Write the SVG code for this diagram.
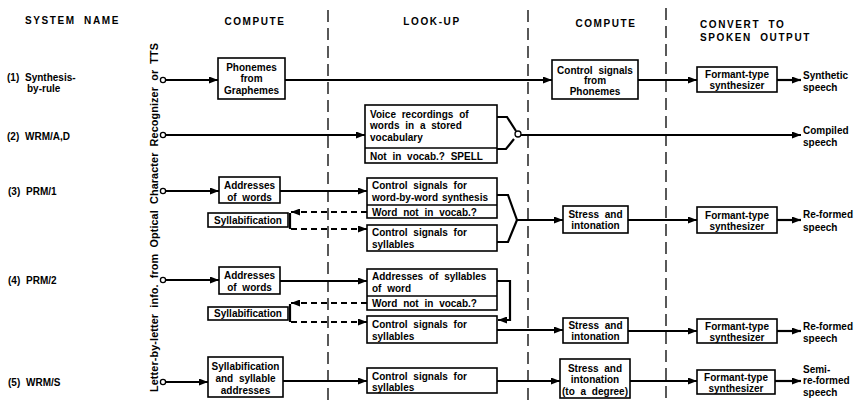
<svg xmlns="http://www.w3.org/2000/svg" width="862" height="400" viewBox="0 0 862 400">
<defs>
<marker id="ah" markerUnits="userSpaceOnUse" markerWidth="9" markerHeight="7" refX="9" refY="3.5" orient="auto">
<path d="M0,0 L9,3.5 L0,7 z" fill="#000"/>
</marker>
<style>
.t{font-family:"Liberation Sans",Arial,sans-serif;font-size:10px;font-weight:bold;fill:#000;dominant-baseline:central;word-spacing:3px}
.c{text-anchor:middle}
.h{letter-spacing:1.6px;word-spacing:4px}
.box{fill:#fff;stroke:#000;stroke-width:1.6}
.ln{stroke:#000;stroke-width:2.2;fill:none}
.ar{marker-end:url(#ah)}
.dash{stroke-dasharray:6 4}
.div{stroke:#000;stroke-width:1.3;stroke-dasharray:12 6;fill:none}
.in{fill:#fff;stroke:#000;stroke-width:1.3}
</style>
</defs>
<rect width="862" height="400" fill="#fff"/>

<g id="headers">
<text class="t h" x="25" y="20">SYSTEM NAME</text>
<text class="t h c" x="255" y="21">COMPUTE</text>
<text class="t h c" x="432" y="21">LOOK-UP</text>
<text class="t h c" x="606" y="23">COMPUTE</text>
<text class="t h" x="700" y="24">CONVERT TO</text>
<text class="t h" x="700" y="37">SPOKEN OUTPUT</text>
</g>

<g id="dividers">
<line class="div" x1="328" y1="10" x2="328" y2="400"/>
<line class="div" x1="528" y1="10" x2="528" y2="400"/>
<line class="div" x1="666" y1="8" x2="666" y2="400"/>
</g>

<g id="side-label">
<text class="t" x="158" y="392" transform="rotate(-90 158 392)" textLength="349" lengthAdjust="spacing" style="dominant-baseline:auto;font-size:10.8px;word-spacing:3px">Letter-by-letter info. from Optical Character Recognizer or TTS</text>
</g>

<g id="system-names">
<text class="t" x="7" y="77">(1) Synthesis-</text>
<text class="t" x="27" y="88">by-rule</text>
<text class="t" x="7" y="136">(2) WRM/A,D</text>
<text class="t" x="8" y="191">(3) PRM/1</text>
<text class="t" x="8" y="280">(4) PRM/2</text>
<text class="t" x="8" y="382">(5) WRM/S</text>
</g>

<g id="connectors">
<!-- row 1 -->
<path class="ln ar" d="M166,80 H218"/>
<path class="ln ar" d="M285,80 H552"/>
<path class="ln ar" d="M638,80 H697"/>
<path class="ln ar" d="M777,80 H801"/>
<!-- row 2 -->
<path class="ln ar" d="M166,135 H365"/>
<path class="ln" d="M497,117 H507 L516,131"/>
<path class="ln" d="M497,149 H506 L514,139"/>
<path class="ln ar" d="M521,135 H801"/>
<!-- row 3 -->
<path class="ln ar" d="M166,191 H219"/>
<path class="ln ar" d="M280,191 H367"/>
<path class="ln dash ar" d="M367,212 H291"/>
<path class="ln" d="M290,213 V229"/>
<path class="ln dash ar" d="M291,229 H367"/>
<path class="ln" d="M497,195 H508 L517,220"/>
<path class="ln" d="M497,242 H508 L517,220"/>
<path class="ln ar" d="M517,220 H563"/>
<path class="ln ar" d="M628,220 H697"/>
<path class="ln ar" d="M777,220 H801"/>
<!-- row 4 -->
<path class="ln ar" d="M166,280 H219"/>
<path class="ln ar" d="M280,281 H367"/>
<path class="ln ar" d="M497,281 H510 V320 H498"/>
<path class="ln dash ar" d="M367,303 H291"/>
<path class="ln" d="M290,304 V322"/>
<path class="ln dash ar" d="M291,322 H367"/>
<path class="ln ar" d="M497,330 H563"/>
<path class="ln ar" d="M628,331 H697"/>
<path class="ln ar" d="M777,331 H801"/>
<!-- row 5 -->
<path class="ln ar" d="M166,382 H208"/>
<path class="ln ar" d="M283,381 H367"/>
<path class="ln ar" d="M497,381 H560"/>
<path class="ln ar" d="M630,381 H697"/>
<path class="ln ar" d="M775,381 H801"/>
<!-- input terminals -->
<circle class="in" cx="163" cy="80" r="2.6"/>
<circle class="in" cx="163" cy="135" r="2.6"/>
<circle class="in" cx="163" cy="191" r="2.6"/>
<circle class="in" cx="163" cy="280" r="2.6"/>
<circle class="in" cx="163" cy="382" r="2.6"/>
<circle class="in" cx="518" cy="134" r="3"/>
</g>

<g id="r1-phonemes">
<rect class="box" x="218" y="58" width="67" height="41"/>
<text class="t c" x="251.5" y="67">Phonemes</text>
<text class="t c" x="251.5" y="78">from</text>
<text class="t c" x="251.5" y="90">Graphemes</text>
</g>
<g id="r1-control">
<rect class="box" x="552" y="60" width="86" height="39"/>
<text class="t c" x="595" y="70">Control signals</text>
<text class="t c" x="595" y="80">from</text>
<text class="t c" x="595" y="91">Phonemes</text>
</g>
<g id="r1-formant">
<rect class="box" x="697" y="67" width="80" height="25"/>
<text class="t c" x="737" y="74">Formant-type</text>
<text class="t c" x="737" y="85">synthesizer</text>
</g>
<g id="r1-output">
<text class="t" x="803" y="75">Synthetic</text>
<text class="t" x="803" y="87">speech</text>
</g>

<g id="r2-voice">
<rect class="box" x="365" y="105" width="132" height="58"/>
<line x1="365" y1="148" x2="497" y2="148" stroke="#000" stroke-width="1.6"/>
<text class="t" x="370" y="114">Voice recordings of</text>
<text class="t" x="370" y="125">words in a stored</text>
<text class="t" x="370" y="137">vocabulary</text>
<text class="t" x="370" y="156">Not in vocab.? SPELL</text>
</g>
<g id="r2-output">
<text class="t" x="803" y="130">Compiled</text>
<text class="t" x="803" y="142">speech</text>
</g>

<g id="r3-addresses">
<rect class="box" x="219" y="177" width="61" height="26"/>
<text class="t c" x="249.5" y="185">Addresses</text>
<text class="t c" x="249.5" y="197">of words</text>
</g>
<g id="r3-syllabification">
<rect class="box" x="208" y="213" width="80" height="14"/>
<text class="t c" x="248" y="220" style="word-spacing:0">Syllabification</text>
</g>
<g id="r3-wordsynth">
<rect class="box" x="367" y="178" width="130" height="40"/>
<line x1="367" y1="205" x2="497" y2="205" stroke="#000" stroke-width="1.6"/>
<text class="t" x="372" y="185">Control signals for</text>
<text class="t" x="372" y="197" style="word-spacing:1px">word-by-word synthesis</text>
<text class="t" x="372" y="212">Word not in vocab.?</text>
</g>
<g id="r3-syllables">
<rect class="box" x="367" y="225" width="130" height="26"/>
<text class="t" x="372" y="232">Control signals for</text>
<text class="t" x="372" y="244">syllables</text>
</g>
<g id="r3-stress">
<rect class="box" x="563" y="206" width="65" height="27"/>
<text class="t c" x="595.5" y="214">Stress and</text>
<text class="t c" x="595.5" y="225">intonation</text>
</g>
<g id="r3-formant">
<rect class="box" x="697" y="207" width="80" height="26"/>
<text class="t c" x="737" y="215">Formant-type</text>
<text class="t c" x="737" y="226">synthesizer</text>
</g>
<g id="r3-output">
<text class="t" x="803" y="214">Re-formed</text>
<text class="t" x="803" y="227">speech</text>
</g>

<g id="r4-addresses">
<rect class="box" x="219" y="267" width="61" height="27"/>
<text class="t c" x="249.5" y="275">Addresses</text>
<text class="t c" x="249.5" y="287">of words</text>
</g>
<g id="r4-syllabification">
<rect class="box" x="208" y="307" width="80" height="13"/>
<text class="t c" x="248" y="313.5" style="word-spacing:0">Syllabification</text>
</g>
<g id="r4-sylladdr">
<rect class="box" x="367" y="269" width="130" height="41"/>
<line x1="367" y1="296" x2="497" y2="296" stroke="#000" stroke-width="1.6"/>
<text class="t" x="372" y="276">Addresses of syllables</text>
<text class="t" x="372" y="288">of word</text>
<text class="t" x="372" y="303">Word not in vocab.?</text>
</g>
<g id="r4-syllables">
<rect class="box" x="367" y="316" width="130" height="27"/>
<text class="t" x="372" y="324">Control signals for</text>
<text class="t" x="372" y="336">syllables</text>
</g>
<g id="r4-stress">
<rect class="box" x="563" y="318" width="65" height="25"/>
<text class="t c" x="595.5" y="325">Stress and</text>
<text class="t c" x="595.5" y="336">intonation</text>
</g>
<g id="r4-formant">
<rect class="box" x="697" y="319" width="80" height="24"/>
<text class="t c" x="737" y="326">Formant-type</text>
<text class="t c" x="737" y="337">synthesizer</text>
</g>
<g id="r4-output">
<text class="t" x="803" y="326">Re-formed</text>
<text class="t" x="803" y="338">speech</text>
</g>

<g id="r5-sylladdr">
<rect class="box" x="208" y="357" width="75" height="40"/>
<text class="t c" x="245.5" y="366" style="word-spacing:0">Syllabification</text>
<text class="t c" x="245.5" y="378">and syllable</text>
<text class="t c" x="245.5" y="390">addresses</text>
</g>
<g id="r5-syllables">
<rect class="box" x="367" y="368" width="130" height="25"/>
<text class="t" x="372" y="376">Control signals for</text>
<text class="t" x="372" y="387">syllables</text>
</g>
<g id="r5-stress">
<rect class="box" x="560" y="359" width="70" height="39"/>
<text class="t c" x="595" y="368">Stress and</text>
<text class="t c" x="595" y="379">intonation</text>
<text class="t c" x="595" y="391">(to a degree)</text>
</g>
<g id="r5-formant">
<rect class="box" x="697" y="370" width="78" height="24"/>
<text class="t c" x="736" y="377">Formant-type</text>
<text class="t c" x="736" y="388">synthesizer</text>
</g>
<g id="r5-output">
<text class="t" x="803" y="369">Semi-</text>
<text class="t" x="803" y="380">re-formed</text>
<text class="t" x="803" y="392">speech</text>
</g>
</svg>
